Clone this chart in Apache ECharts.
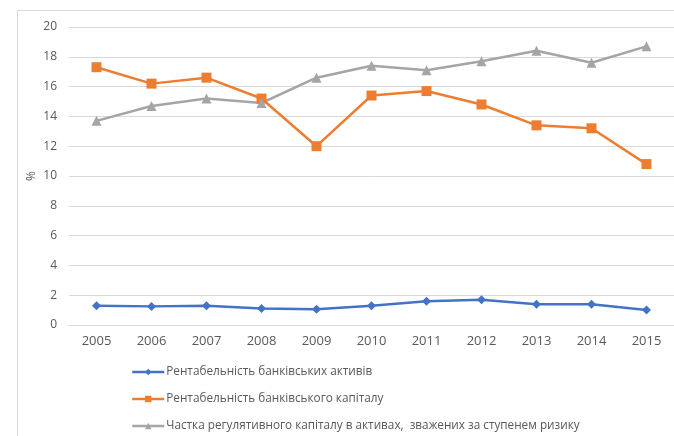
<!DOCTYPE html>
<html>
<head>
<meta charset="utf-8">
<script src="https://cdn.jsdelivr.net/npm/echarts@6/dist/echarts.min.js"></script>
<style>
  html, body { margin: 0; padding: 0; background: #fff; }
  #chart { width: 674px; height: 436px; }
</style>
</head>
<body>
<div id="chart"></div>
<script>
// Bank performance indicators, Ukraine, 2005–2015 (%)
const years = ['2005', '2006', '2007', '2008', '2009', '2010', '2011', '2012', '2013', '2014', '2015'];
const roaValues = [1.3, 1.25, 1.3, 1.1, 1.05, 1.3, 1.6, 1.7, 1.4, 1.4, 1.0];
const roeValues = [17.3, 16.2, 16.6, 15.2, 12.0, 15.4, 15.7, 14.8, 13.4, 13.2, 10.8];
const capitalRatioValues = [13.7, 14.7, 15.2, 14.9, 16.6, 17.4, 17.1, 17.7, 18.4, 17.6, 18.7];
const yTicks = [0, 2, 4, 6, 8, 10, 12, 14, 16, 18, 20];

const seriesNames = [
  'Рентабельність банківських активів',
  'Рентабельність банківського капіталу',
  'Частка регулятивного капіталу в активах,  зважених за ступенем ризику'
];

const textColor = '#595959';
const gridColor = '#D9D9D9';
const fontFamily = '"Open Sans", "Noto Sans", sans-serif';

const chart = echarts.init(document.getElementById('chart'), null, { renderer: 'canvas' });

function lineSeries(name, data, color, symbol, size) {
  return {
    name: name,
    type: 'line',
    data: data,
    symbol: symbol,
    symbolSize: size,
    lineStyle: { color: color, width: 2.5 },
    itemStyle: { color: color },
    emphasis: { disabled: true },
    animation: false
  };
}

chart.setOption({
  backgroundColor: '#fff',
  textStyle: { fontFamily: fontFamily },
  graphic: [{
    type: 'rect',
    shape: { x: 17.5, y: 10.5, width: 700, height: 500 },
    style: { fill: 'none', stroke: gridColor, lineWidth: 1 },
    silent: true,
    z: -1
  }],
  grid: { left: 69, top: 27, width: 609, height: 298 },
  legend: {
    orient: 'vertical',
    left: 131,
    top: 366,
    height: 70,
    padding: 0,
    itemGap: 15,
    itemWidth: 32,
    itemHeight: 8,
    lineStyle: { width: 2.5 },
    textStyle: { color: textColor, fontSize: 11.75, fontFamily: fontFamily, padding: [0, 0, 0, -3] },
    data: seriesNames
  },
  xAxis: {
    type: 'category',
    data: years,
    boundaryGap: true,
    axisLine: { show: true, lineStyle: { color: gridColor, width: 1 } },
    axisTick: { show: false },
    axisLabel: { color: textColor, fontSize: 13, margin: 10 },
    splitLine: { show: false }
  },
  yAxis: {
    type: 'value',
    min: yTicks[0],
    max: yTicks[yTicks.length - 1],
    interval: 2,
    name: '%',
    nameLocation: 'middle',
    nameRotate: 90,
    nameGap: 37,
    nameMoveOverlap: false,
    nameTextStyle: { color: textColor, fontSize: 12, verticalAlign: 'middle' },
    axisLine: { show: false },
    axisTick: { show: false },
    axisLabel: { color: textColor, fontSize: 12, margin: 12 },
    splitLine: { lineStyle: { color: gridColor, width: 1 } }
  },
  series: [
    lineSeries(seriesNames[0], roaValues, '#4472C4', 'diamond', 9),
    lineSeries(seriesNames[1], roeValues, '#ED7D31', 'rect', 10),
    lineSeries(seriesNames[2], capitalRatioValues, '#A5A5A5', 'triangle', 10)
  ]
});
</script>
</body>
</html>
